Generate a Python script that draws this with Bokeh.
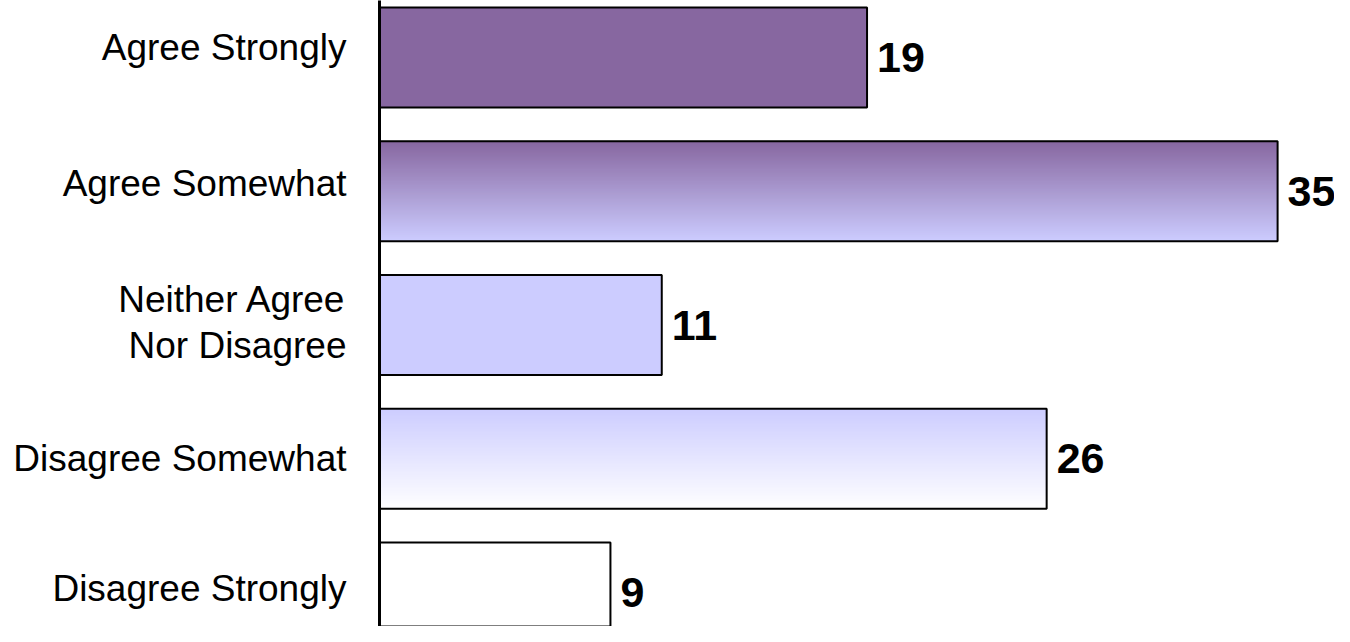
from bokeh.plotting import figure
from bokeh.models import ColumnDataSource, Range1d, FixedTicker
from bokeh.core.properties import value
from bokeh.embed import file_html
from bokeh.resources import INLINE

categories = ["Agree Strongly", "Agree Somewhat", "Neither Agree\nNor Disagree",
              "Disagree Somewhat", "Disagree Strongly"]
values = [19, 35, 11, 26, 9]

# style: top / bottom colour of each bar's vertical gradient
top_colors = ["#8767A0", "#8767A0", "#CCCCFF", "#CCCCFF", "#FFFFFF"]
bottom_colors = ["#8767A0", "#CCCCFF", "#CCCCFF", "#FFFFFF", "#FFFFFF"]
# style: vertical nudge (px, negative = up) of each category label
label_nudge_px = [-10, -7.5, -2.5, 0, -4.5]

BAR_H = 0.748
N_STRIPS = 50
PX_PER_UNIT = 25.66
FRAME_LEFT = 379
FIG_W, FIG_H = 1334, 626
PITCH = 133.75
FIRST_CENTER = 57


def hex2rgb(h):
    h = h.lstrip("#")
    return tuple(int(h[i:i + 2], 16) for i in (0, 2, 4))


def mix(c1, c2, t):
    a, b = hex2rgb(c1), hex2rgb(c2)
    return "#%02x%02x%02x" % tuple(round(a[i] + (b[i] - a[i]) * t) for i in range(3))


p = figure(width=FIG_W, height=FIG_H, output_backend="svg", toolbar_location=None,
           x_range=Range1d(0, (FIG_W - FRAME_LEFT) / PX_PER_UNIT),
           y_range=Range1d((FIG_H - FIRST_CENTER) / PITCH, -FIRST_CENTER / PITCH),
           min_border_left=FRAME_LEFT, min_border_right=0, min_border_top=0,
           min_border_bottom=0)
p.outline_line_color = None
p.grid.visible = False
p.xaxis.visible = False
p.background_fill_color = "white"

# gradient: each strip runs from its top to the bar bottom, later strips overdraw
sb, st, sr, sc = [], [], [], []
for i, v in enumerate(values):
    bottom = i + BAR_H / 2
    if top_colors[i] == bottom_colors[i]:
        sb.append(bottom)
        st.append(i - BAR_H / 2)
        sr.append(v)
        sc.append(top_colors[i])
        continue
    for k in range(N_STRIPS):
        t = (k + 0.5) / N_STRIPS
        sb.append(bottom)
        st.append(i - BAR_H / 2 + k * BAR_H / N_STRIPS)
        sr.append(v)
        sc.append(mix(top_colors[i], bottom_colors[i], t))
strips = ColumnDataSource(dict(bottom=sb, top=st, right=sr, color=sc))
p.quad(left=0, right="right", bottom="bottom", top="top", fill_color="color",
       line_color=None, source=strips)

src = ColumnDataSource(dict(y=list(range(len(values))), right=values,
                            label=[str(v) for v in values]))
p.hbar(y="y", left=0, right="right", height=BAR_H, fill_color=None,
       line_color="black", line_width=2, source=src)

p.text(x="right", y="y", text="label", source=src, x_offset=10, y_offset=0,
       text_font=value("Liberation Sans"), text_font_style="bold",
       text_font_size="43px", text_baseline="middle", text_align="left",
       text_color="black")

tick_pos = [i + label_nudge_px[i] / PITCH for i in range(len(categories))]
ax = p.yaxis[0]
ax.ticker = FixedTicker(ticks=tick_pos)
ax.major_label_overrides = {t: c for t, c in zip(tick_pos, categories)}
ax.major_tick_line_color = None
ax.minor_tick_line_color = None
ax.axis_line_width = 3
ax.axis_line_color = "black"
ax.major_label_standoff = 27
ax.major_label_text_font = "Liberation Sans"
ax.major_label_text_font_size = "37px"
ax.major_label_text_color = "black"
ax.major_label_text_line_height = 1.12

open("out.html", "w").write(file_html(p, INLINE))
